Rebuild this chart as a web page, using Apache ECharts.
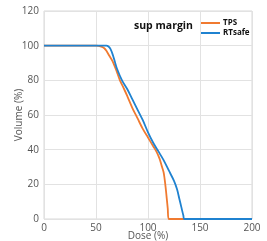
<!DOCTYPE html>
<html><head><meta charset="utf-8">
<script src="https://cdn.jsdelivr.net/npm/echarts@6/dist/echarts.min.js"></script>
<style>html,body{margin:0;padding:0;background:#fff}#c{width:267px;height:241px}</style>
</head><body><div id="c"></div>
<script>
const tpsData = [[0,100],[50,100],[55,99.5],[58,98.5],[60,97],[63,94],[66,91],[70,85],[73,80],[77,75],[80,71],[85,64],[90,58],[95,52],[100,47],[105,42],[108,39],[111,35],[113,31],[115,27],[116,23],[117,18],[118,12],[119,6],[120,0],[200,0]];
const rtsafeData = [[0,100],[60,100],[62,99.5],[64,98],[66,95],[68,91],[70,87],[75,80],[80,75],[85,69],[90,63],[95,57],[100,50],[105,44],[110,39],[115,34],[120,28],[125,22],[128,17],[130,12],[132,7],[134,2],[135,0],[200,0]];
const xTicks = [0,50,100,150,200];
const yTicks = [0,20,40,60,80,100,120];
const seriesNames = ['TPS','RTsafe'];
const titleText = 'sup margin';
const chart = echarts.init(document.getElementById('c'));
const font = 'Open Sans';
chart.setOption({
  animation:false,
  grid:{left:44,right:15,top:11,bottom:22,containLabel:false,outerBoundsMode:'none',show:true,borderColor:'#d8d8d8',borderWidth:1},
  title:{text:titleText,left:129,top:16,textStyle:{fontSize:10.5,fontWeight:'bold',color:'#111',fontFamily:font}},
  legend:{orient:'vertical',left:196,top:14,itemWidth:19,itemHeight:2,itemGap:2,icon:'rect',
    textStyle:{fontSize:8,fontWeight:'bold',color:'#111',fontFamily:font,padding:[0,0,0,-2]},data:seriesNames},
  xAxis:{type:'value',min:xTicks[0],max:xTicks[xTicks.length-1],interval:50,
    name:'Dose (%)',nameLocation:'middle',nameGap:17,nameMoveOverlap:false,nameTextStyle:{fontSize:10,color:'#555',fontFamily:font,verticalAlign:'middle'},
    axisLine:{show:false},axisTick:{show:false},
    axisLabel:{fontSize:10,color:'#555',fontFamily:font,margin:4},
    splitLine:{lineStyle:{color:'#e2e2e2',width:1}}},
  yAxis:{type:'value',min:yTicks[0],max:yTicks[yTicks.length-1],interval:20,
    name:'Volume (%)',nameLocation:'middle',nameGap:25,nameMoveOverlap:false,nameTextStyle:{fontSize:10,color:'#555',fontFamily:font,verticalAlign:'middle'},
    axisLine:{show:false},axisTick:{show:false},
    axisLabel:{fontSize:10,color:'#555',fontFamily:font,margin:5},
    splitLine:{lineStyle:{color:'#e2e2e2',width:1}}},
  series:[
    {name:seriesNames[0],type:'line',data:tpsData,showSymbol:false,smooth:0.3,lineStyle:{color:'#f07a30',width:1.8},itemStyle:{color:'#f07a30'}},
    {name:seriesNames[1],type:'line',data:rtsafeData,showSymbol:false,smooth:0.3,lineStyle:{color:'#1f82d0',width:1.8},itemStyle:{color:'#1f82d0'}}
  ]
});
</script></body></html>
